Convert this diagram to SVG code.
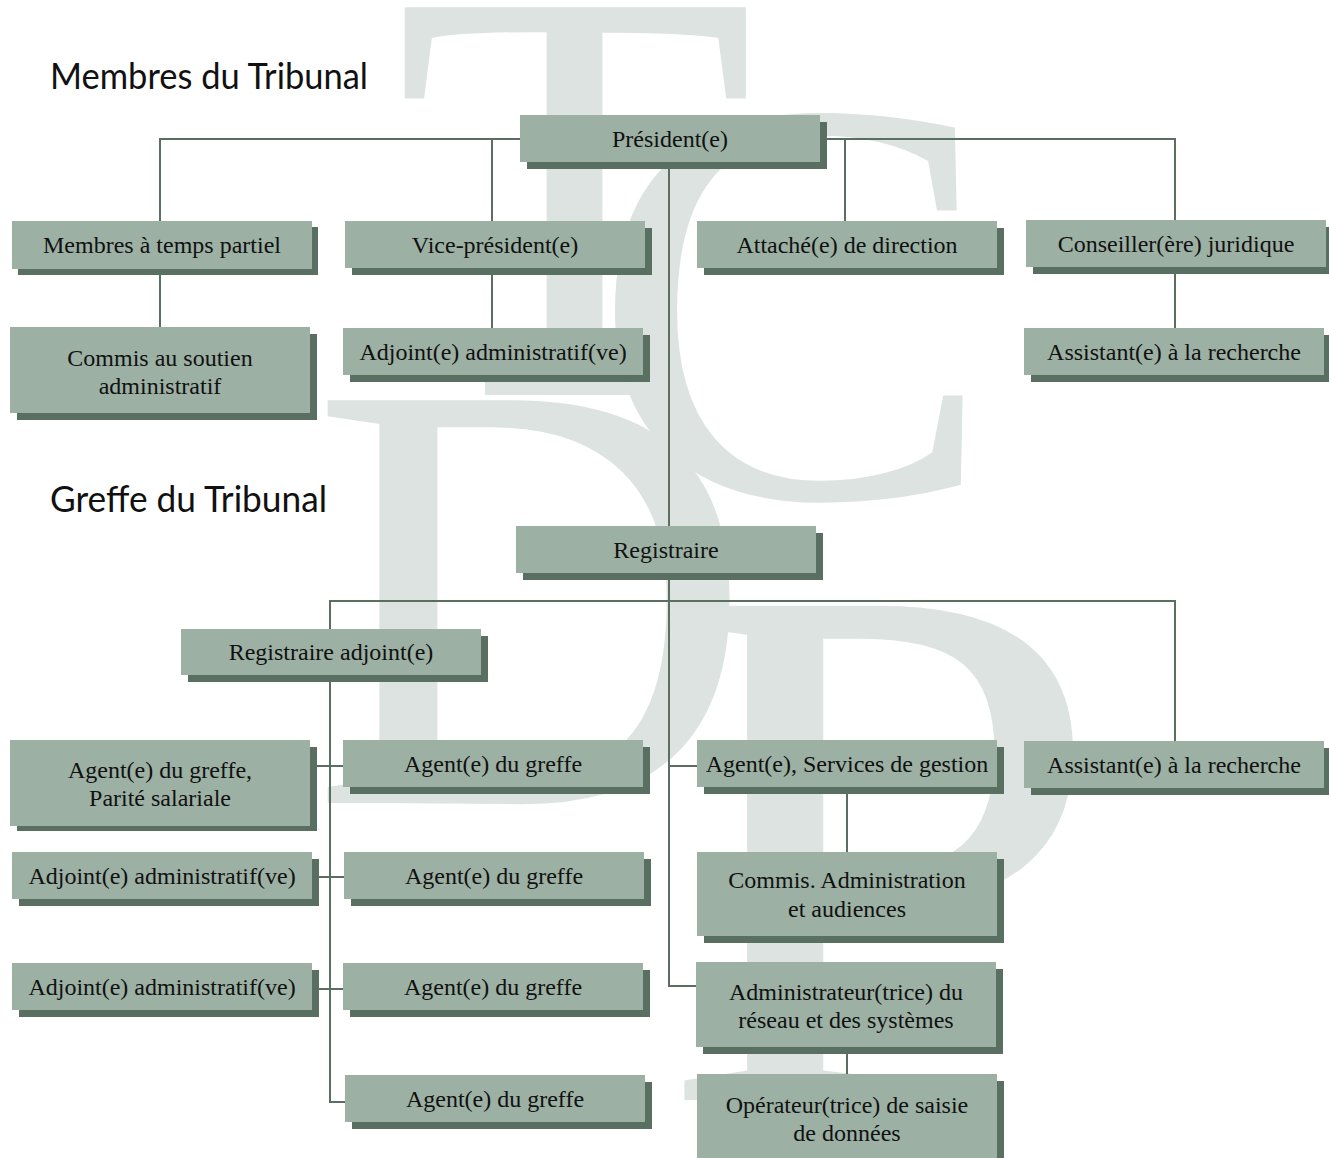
<svg xmlns="http://www.w3.org/2000/svg" width="1329" height="1158" viewBox="0 0 1329 1158">
<style>
.wm{fill:#dce3e0;font-family:"Liberation Serif",serif}
.sh{fill:#586f61}
.bx{fill:#9cb0a4}
.lb{font-family:"Liberation Serif",serif;font-size:24px;fill:#111;text-anchor:middle}
.ttl{font-family:Lato,"Open Sans",sans-serif;font-size:36px;fill:#111}
.cn{fill:none;stroke:#5a6f62;stroke-width:2}
</style>
<rect width="1329" height="1158" fill="#fff"/>
<g id="watermark">
<text class="wm" x="394" y="395" font-size="592">T</text>
<text class="wm" transform="translate(590,497) scale(1.05,1)" font-size="580">C</text>
<text class="wm" x="310" y="803" font-size="615">D</text>
<text class="wm" transform="translate(656,1100) scale(1.07,1)" font-size="755">P</text>
</g>
<text id="title1" class="ttl" x="50" y="89" textLength="318" lengthAdjust="spacingAndGlyphs">Membres du Tribunal</text>
<text id="title2" class="ttl" x="50" y="512" textLength="277" lengthAdjust="spacingAndGlyphs">Greffe du Tribunal</text>
<g id="connectors">
<path class="cn" d="M160 221V139H1175V220"/>
<path class="cn" d="M492 139V221M845 139V221"/>
<path class="cn" d="M160 269V327M492 268V328M1175 267V328"/>
<path class="cn" d="M669 162V986H696"/>
<path class="cn" d="M669 766H697"/>
<path class="cn" d="M330 630V601H1175V741"/>
<path class="cn" d="M330 675V1102H345"/>
<path class="cn" d="M316 766H343M318 877H344M317 989H343"/>
<path class="cn" d="M847 787V852M847 1047V1074"/>
</g>
<g id="n-president"><rect class="sh" x="527" y="122" width="300" height="47"/><rect class="bx" x="520" y="115" width="300" height="47"/><text class="lb" x="670" y="147">Président(e)</text></g>
<g id="n-membres"><rect class="sh" x="18" y="227" width="300" height="48"/><rect class="bx" x="12" y="221" width="300" height="48"/><text class="lb" x="162" y="253">Membres à temps partiel</text></g>
<g id="n-commis"><rect class="sh" x="17" y="334" width="300" height="86"/><rect class="bx" x="10" y="327" width="300" height="86"/><text class="lb" x="160" y="366">Commis au soutien</text><text class="lb" x="160" y="394">administratif</text></g>
<g id="n-vice"><rect class="sh" x="352" y="228" width="300" height="47"/><rect class="bx" x="345" y="221" width="300" height="47"/><text class="lb" x="495" y="253">Vice-président(e)</text></g>
<g id="n-adjoint-top"><rect class="sh" x="350" y="335" width="300" height="47"/><rect class="bx" x="343" y="328" width="300" height="47"/><text class="lb" x="493" y="360">Adjoint(e) administratif(ve)</text></g>
<g id="n-attache"><rect class="sh" x="704" y="228" width="300" height="47"/><rect class="bx" x="697" y="221" width="300" height="47"/><text class="lb" x="847" y="253">Attaché(e) de direction</text></g>
<g id="n-conseiller"><rect class="sh" x="1033" y="227" width="300" height="47"/><rect class="bx" x="1026" y="220" width="300" height="47"/><text class="lb" x="1176" y="252">Conseiller(ère) juridique</text></g>
<g id="n-assistant-top"><rect class="sh" x="1031" y="335" width="300" height="47"/><rect class="bx" x="1024" y="328" width="300" height="47"/><text class="lb" x="1174" y="360">Assistant(e) à la recherche</text></g>
<g id="n-registraire"><rect class="sh" x="523" y="533" width="300" height="47"/><rect class="bx" x="516" y="526" width="300" height="47"/><text class="lb" x="666" y="558">Registraire</text></g>
<g id="n-reg-adjoint"><rect class="sh" x="188" y="636" width="300" height="46"/><rect class="bx" x="181" y="629" width="300" height="46"/><text class="lb" x="331" y="660">Registraire adjoint(e)</text></g>
<g id="n-parite"><rect class="sh" x="17" y="747" width="300" height="84"/><rect class="bx" x="10" y="740" width="300" height="86"/><text class="lb" x="160" y="778">Agent(e) du greffe,</text><text class="lb" x="160" y="806">Parité salariale</text></g>
<g id="n-adj1"><rect class="sh" x="19" y="859" width="300" height="47"/><rect class="bx" x="12" y="852" width="300" height="47"/><text class="lb" x="162" y="884">Adjoint(e) administratif(ve)</text></g>
<g id="n-adj2"><rect class="sh" x="19" y="970" width="300" height="47"/><rect class="bx" x="12" y="963" width="300" height="47"/><text class="lb" x="162" y="995">Adjoint(e) administratif(ve)</text></g>
<g id="n-agent1"><rect class="sh" x="350" y="747" width="300" height="47"/><rect class="bx" x="343" y="740" width="300" height="47"/><text class="lb" x="493" y="772">Agent(e) du greffe</text></g>
<g id="n-agent2"><rect class="sh" x="351" y="859" width="300" height="47"/><rect class="bx" x="344" y="852" width="300" height="47"/><text class="lb" x="494" y="884">Agent(e) du greffe</text></g>
<g id="n-agent3"><rect class="sh" x="350" y="970" width="300" height="47"/><rect class="bx" x="343" y="963" width="300" height="47"/><text class="lb" x="493" y="995">Agent(e) du greffe</text></g>
<g id="n-agent4"><rect class="sh" x="352" y="1082" width="300" height="47"/><rect class="bx" x="345" y="1075" width="300" height="47"/><text class="lb" x="495" y="1107">Agent(e) du greffe</text></g>
<g id="n-services"><rect class="sh" x="704" y="747" width="300" height="47"/><rect class="bx" x="697" y="740" width="300" height="47"/><text class="lb" x="847" y="772">Agent(e), Services de gestion</text></g>
<g id="n-assistant-low"><rect class="sh" x="1031" y="748" width="300" height="47"/><rect class="bx" x="1024" y="741" width="300" height="47"/><text class="lb" x="1174" y="773">Assistant(e) à la recherche</text></g>
<g id="n-commis-adm"><rect class="sh" x="704" y="859" width="300" height="84"/><rect class="bx" x="697" y="852" width="300" height="84"/><text class="lb" x="847" y="888">Commis. Administration</text><text class="lb" x="847" y="917">et audiences</text></g>
<g id="n-admin-reseau"><rect class="sh" x="703" y="969" width="300" height="85"/><rect class="bx" x="696" y="962" width="300" height="85"/><text class="lb" x="846" y="1000">Administrateur(trice) du</text><text class="lb" x="846" y="1028">réseau et des systèmes</text></g>
<g id="n-operateur"><rect class="sh" x="704" y="1081" width="300" height="86"/><rect class="bx" x="697" y="1074" width="300" height="86"/><text class="lb" x="847" y="1113">Opérateur(trice) de saisie</text><text class="lb" x="847" y="1141">de données</text></g>
</svg>
